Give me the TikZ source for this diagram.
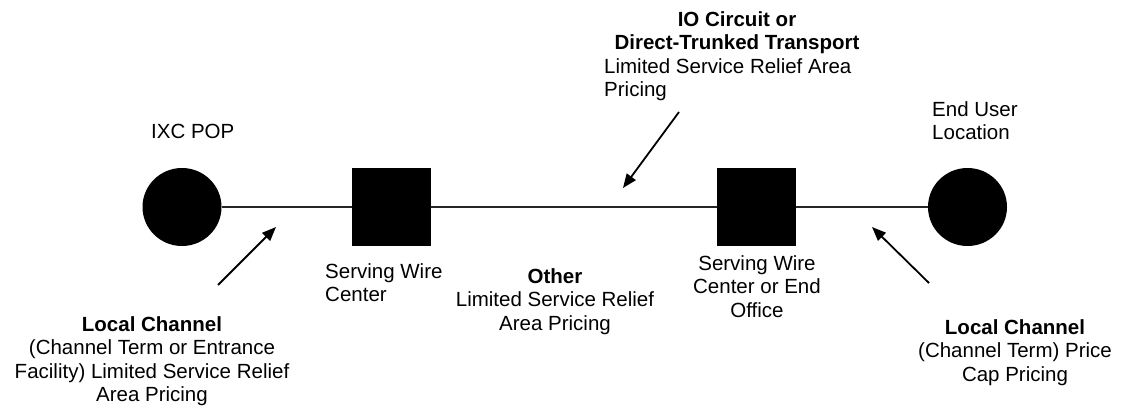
\documentclass[tikz,border=0pt]{standalone}
\usepackage{fontspec}
\setmainfont{Liberation Sans}
\usetikzlibrary{arrows.meta,shapes.geometric}
\begin{document}
\begin{tikzpicture}[x=1pt,y=-1pt,
  lbl/.style={font=\fontsize{20.5}{23.5}\selectfont, inner sep=0pt, align=center},
  site/.style={ellipse, fill=black, minimum width=79pt, minimum height=78pt, inner sep=0pt},
  office/.style={rectangle, fill=black, minimum width=79pt, minimum height=78pt, inner sep=0pt},
  wire/.style={line width=1.5pt, draw=black!85},
  pointer/.style={line width=1.8pt, -{Triangle[length=14pt,width=11pt]}}]
\useasboundingbox (0,0) rectangle (1121,406);
% sites and offices
\node[site] (pop) at (182,207) {};
\node[office] (swc) at (391.5,207) {};
\node[office] (eo) at (756.5,207) {};
\node[site] (eu) at (967.5,207) {};
% wires
\draw[wire] (pop.east) -- (swc.west);
\draw[wire] (swc.east) -- (eo.west);
\draw[wire] (eo.east) -- (eu.west);
% labels
\node[lbl, anchor=base west] (popl) at (151,139) {IXC POP};
\node[lbl, anchor=north west, align=left] (eul) at (932,101) {End User\\Location};
\node[lbl, anchor=north, font=\fontsize{20.5}{23.5}\selectfont\bfseries] (iot) at (737,11) {IO Circuit or\\Direct-Trunked Transport};
\node[lbl, anchor=north west, align=left] (iob) at (604,58) {Limited Service Relief Area\\Pricing};
\node[lbl, anchor=north west, align=left] (swcl) at (325,263) {Serving Wire\\Center};
\node[lbl, anchor=north] (oth) at (555,268) {\textbf{Other}\\Limited Service Relief\\Area Pricing};
\node[lbl, anchor=north] (eol) at (757,255) {Serving Wire\\Center or End\\Office};
\node[lbl, anchor=north] (lcl) at (152,316) {\textbf{Local Channel}\\(Channel Term or Entrance\\Facility) Limited Service Relief\\Area Pricing};
\node[lbl, anchor=north] (lcr) at (1015,319) {\textbf{Local Channel}\\(Channel Term) Price\\Cap Pricing};
% arrows
\coordinate (a1s) at (218,285); \coordinate (a1e) at (276,227);
\coordinate (a2s) at (679,112); \coordinate (a2e) at (623,188);
\coordinate (a3s) at (929,283); \coordinate (a3e) at (872,227);
\draw[pointer] (a1s) -- (a1e);
\draw[pointer] (a2s) -- (a2e);
\draw[pointer] (a3s) -- (a3e);
\end{tikzpicture}
\end{document}
